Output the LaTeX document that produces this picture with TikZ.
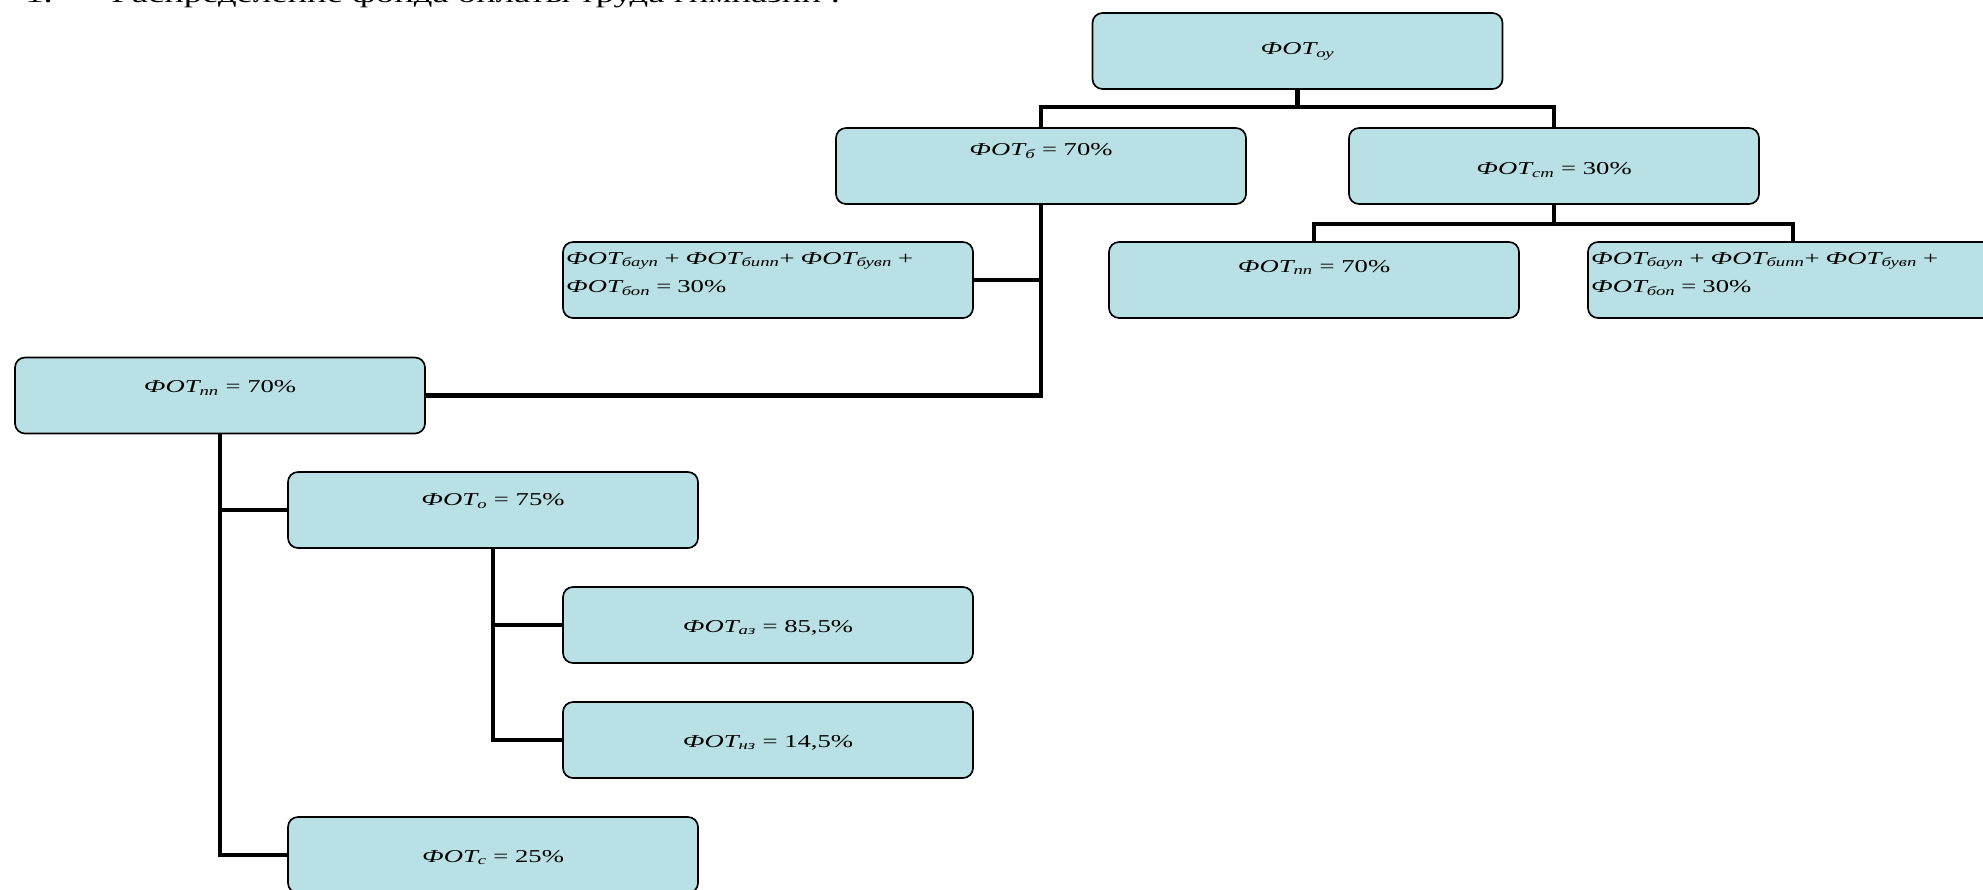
\documentclass[tikz,border=0pt]{standalone}
\usepackage{fontspec}
\setmainfont[FakeStretch=1.47]{Liberation Serif}
\definecolor{boxfill}{RGB}{185,224,228}
\newcommand{\fot}[1]{\textit{ФОТ\textsubscript{#1}}}
\begin{document}
\begin{tikzpicture}[x=0.75pt, y=-0.75pt,
    box/.style={draw, line width=1.25pt, rounded corners=7.5pt, fill=boxfill,
        minimum width=307.5pt, minimum height=57pt, inner sep=0pt,
        font=\fontsize{13.6}{16}\selectfont},
    topbox/.style={box, text height=22.5pt, text depth=34.5pt},
    lowbox/.style={box, text height=33.8pt, text depth=23.2pt},
    listbox/.style={box, text width=303pt, align=left, inner xsep=1.5pt,
        text height=16.5pt, text depth=40.5pt, font=\fontsize{13.6}{21.5}\selectfont},
    link/.style={line width=3.5pt}]
    \useasboundingbox (0,0) rectangle (1983,889);
    \clip (0,0) rectangle (1983,889);

    % heading, cut by the top edge
    \node[anchor=base west, inner sep=0pt, font=\fontsize{18.7}{22}\selectfont] (title) at (25,2.5)
        {1.\hspace{44pt}Распределение фонда оплаты труда гимназии :};

    % top level
    \node[box] (oy) at (1297.5,51) {\fot{оу}};
    \node[topbox, text height=20.6pt, text depth=36.4pt] (b) at (1041,166) {\fot{б} = 70\%};
    \node[box, text height=34.7pt, text depth=22.3pt] (st) at (1554,166) {\fot{ст} = 30\%};

    % under the ст part
    \node[topbox] (ppR) at (1314,280) {\fot{пп} = 70\%};
    \node[listbox] (restR) at (1793,280) {\fot{бауп} + \fot{бипп}+ \fot{бувп} +\\ \fot{боп} = 30\%};

    % under the б part
    \node[listbox] (restL) at (768,280) {\fot{бауп} + \fot{бипп}+ \fot{бувп} +\\ \fot{боп} = 30\%};
    \node[topbox, text height=26.3pt, text depth=30.7pt] (ppL) at (220,395.5) {\fot{пп} = 70\%};

    % under the пп part
    \node[topbox, text height=25.3pt, text depth=31.7pt] (o) at (493,510) {\fot{о} = 75\%};
    \node[lowbox] (az) at (768,625) {\fot{аз} = 85,5\%};
    \node[lowbox] (nz) at (768,740) {\fot{нз} = 14,5\%};
    \node[lowbox] (c) at (493,855) {\fot{с} = 25\%};

    % connectors
    \coordinate (bus1) at (1297.5,107);
    \coordinate (bus2) at (1554,224);
    \draw[link] (oy.south) -- (bus1);
    \draw[link] (b.north) |- (bus1) -| (st.north);
    \draw[link] (st.south) -- (bus2);
    \draw[link] (ppR.north) |- (bus2) -| (restR.north);
    \draw[link] (b.south) |- (ppL.east);
    \draw[link] (restL.east) -- (restL.east -| b.south);
    \draw[link] (ppL.south) |- (c.west);
    \draw[link] (o.west) -- (o.west -| ppL.south);
    \draw[link] (o.south) |- (nz.west);
    \draw[link] (az.west) -- (az.west -| o.south);
\end{tikzpicture}
\end{document}
